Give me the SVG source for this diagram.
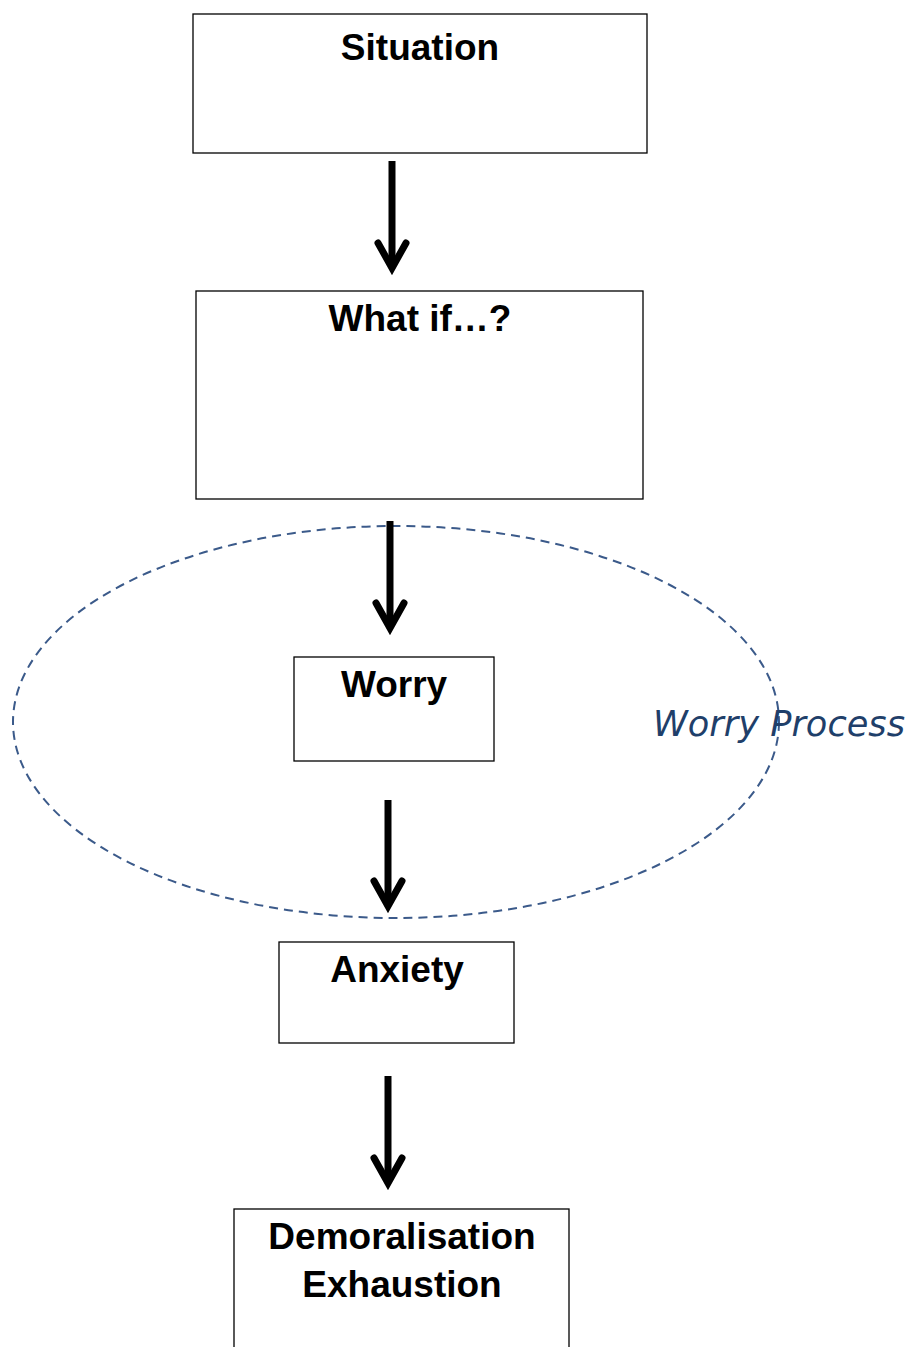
<svg xmlns="http://www.w3.org/2000/svg" width="911" height="1347" viewBox="0 0 911 1347">
<style>
.box{fill:#fff;stroke:#000;stroke-width:1.3}
.lbl{font-family:"Liberation Sans",Arial,sans-serif;font-weight:bold;font-size:37px;text-anchor:middle;fill:#000}
.shaft{stroke:#000;stroke-width:7;fill:none}
.head{stroke:#000;stroke-width:7;fill:none;stroke-linejoin:miter;stroke-linecap:round}
.hand{font-family:"DejaVu Sans",cursive;font-style:italic;font-size:36px;fill:#1f3f6a}
</style>
<rect width="911" height="1347" fill="#fff"/>
<g id="worry-process">
<ellipse cx="396" cy="722" rx="383" ry="196" fill="none" stroke="#3b5a8a" stroke-width="2" stroke-dasharray="9,6"/>
<text class="hand" x="653" y="736" textLength="252" lengthAdjust="spacingAndGlyphs">Worry Process</text>
</g>
<g id="situation">
<rect class="box" x="193" y="14" width="454" height="139"/>
<text class="lbl" x="420" y="60">Situation</text>
</g>
<g id="whatif">
<rect class="box" x="196" y="291" width="447" height="208"/>
<text class="lbl" x="420" y="331">What if…?</text>
</g>
<g id="worry">
<rect class="box" x="294" y="657" width="200" height="104"/>
<text class="lbl" x="394" y="697">Worry</text>
</g>
<g id="anxiety">
<rect class="box" x="279" y="942" width="235" height="101"/>
<text class="lbl" x="397" y="982">Anxiety</text>
</g>
<g id="demoralisation">
<rect class="box" x="234" y="1209" width="335" height="150"/>
<text class="lbl" x="402" y="1249">Demoralisation</text>
<text class="lbl" x="402" y="1297">Exhaustion</text>
</g>
<g id="connectors">
<line class="shaft" x1="392" y1="161" x2="392" y2="266"/>
<polyline class="head" points="378,243 392,268 406,243"/>
<line class="shaft" x1="390" y1="521" x2="390" y2="626"/>
<polyline class="head" points="376,603 390,628 404,603"/>
<line class="shaft" x1="388" y1="800" x2="388" y2="904"/>
<polyline class="head" points="374,881 388,906 402,881"/>
<line class="shaft" x1="388" y1="1076" x2="388" y2="1181"/>
<polyline class="head" points="374,1158 388,1183 402,1158"/>
</g>
</svg>
